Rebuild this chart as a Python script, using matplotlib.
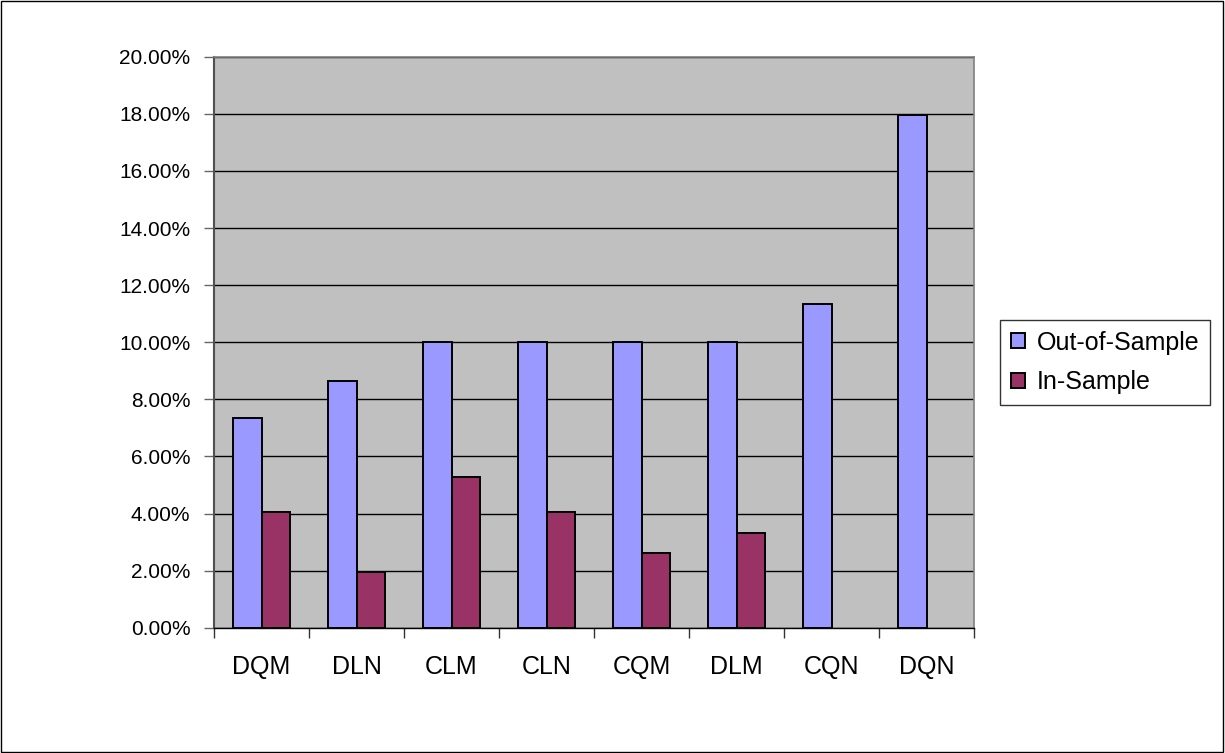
import matplotlib
matplotlib.use("Agg")
import matplotlib.pyplot as plt
import numpy as np
from matplotlib.ticker import FuncFormatter
from matplotlib.patches import Rectangle

categories = ["DQM", "DLN", "CLM", "CLN", "CQM", "DLM", "CQN", "DQN"]
out_of_sample = [7.36, 8.64, 10.0, 10.0, 10.0, 10.0, 11.34, 17.96]
in_sample = [4.05, 1.96, 5.27, 4.05, 2.63, 3.31, 0.0, 0.0]
series_names = ["Out-of-Sample", "In-Sample"]

plt.rcParams["font.family"] = ["Liberation Sans", "DejaVu Sans"]

fig = plt.figure(figsize=(12.25, 7.53), dpi=100)
fig.patch.set_facecolor("white")
fig.add_artist(Rectangle((0.0005, 0.0008), 0.998, 0.998, transform=fig.transFigure,
                         fill=False, edgecolor="black", linewidth=1.0))

W, H = 1225, 753
left, right, top, bottom = 214, 974, 56.7, 627.7
ax = fig.add_axes([left / W, 1 - bottom / H, (right - left) / W, (bottom - top) / H])
ax.set_facecolor("#C0C0C0")

x = np.arange(len(categories))
bw = 0.295
ax.bar(x - bw / 2, out_of_sample, width=bw, color="#9999FF", edgecolor="black",
       linewidth=1.4, label=series_names[0], zorder=3)
ins = [v if v > 0 else np.nan for v in in_sample]
ax.bar(x + bw / 2, ins, width=bw, color="#993366", edgecolor="black",
       linewidth=1.4, label=series_names[1], zorder=3)

ax.set_xlim(-0.5, len(categories) - 0.5)
ax.set_ylim(0, 20)
ax.set_yticks(np.arange(0, 20.01, 2))
ax.yaxis.set_major_formatter(FuncFormatter(lambda v, p: f"{v:.2f}%"))
ax.grid(axis="y", color="black", linewidth=1.0, zorder=1)
ax.set_axisbelow(True)

ax.set_xticks(x)
ax.set_xticklabels(categories)
ax.set_xticks(np.arange(-0.5, len(categories)), minor=True)
ax.tick_params(axis="x", which="major", length=0, pad=20, labelsize=18)
ax.tick_params(axis="x", which="minor", length=7, width=1, color="#333333", direction="out")
ax.tick_params(axis="y", length=7, width=1, color="#666666", direction="out",
               pad=10, labelsize=15)

for s in ["top", "right"]:
    ax.spines[s].set_color("#808080")
    ax.spines[s].set_linewidth(1.2)
ax.spines["left"].set_color("#505050")
ax.spines["left"].set_linewidth(1.5)
ax.spines["bottom"].set_color("black")
ax.spines["bottom"].set_linewidth(1.0)

leg = fig.legend(loc="upper left", bbox_to_anchor=(1000 / W, 1 - 320 / H),
                 fontsize=18, frameon=True, fancybox=False, handlelength=0.56,
                 handleheight=0.56, handletextpad=0.5, borderpad=0.42,
                 labelspacing=0.62, borderaxespad=0)
leg.get_frame().set_edgecolor("black")
leg.get_frame().set_linewidth(1.0)

fig.savefig("out.png", dpi=100)
